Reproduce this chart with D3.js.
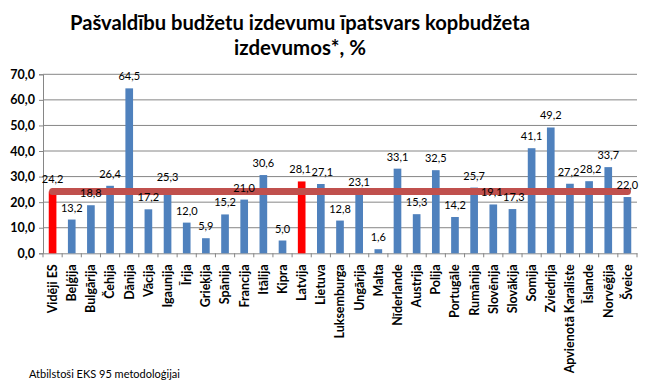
<!DOCTYPE html>
<html><head><meta charset="utf-8">
<script src="https://cdn.jsdelivr.net/npm/d3@7"></script>
<style>body{margin:0;background:#fff}svg{display:block}</style>
</head><body>
<svg id="c" width="648" height="384"></svg>
<script>
const categories = ["Vidēji ES","Beļģija","Bulgārija","Čehija","Dānija","Vācija","Igaunija","Īrija","Grieķija","Spānija","Francija","Itālija","Kipra","Latvija","Lietuva","Luksemburga","Ungārija","Malta","Nīderlande","Austrija","Polija","Portugāle","Rumānija","Slovēnija","Slovākija","Somija","Zviedrija","Apvienotā Karaliste","Īslande","Norvēģija","Šveice"];
const values = [24.2,13.2,18.8,26.4,64.5,17.2,25.3,12.0,5.9,15.2,21.0,30.6,5.0,28.1,27.1,12.8,23.1,1.6,33.1,15.3,32.5,14.2,25.7,19.1,17.3,41.1,49.2,27.2,28.2,33.7,22.0];
const highlighted = ["Vidēji ES","Latvija"];
const averageValue = 24.2;
const yTicks = [0,10,20,30,40,50,60,70];
const titleLines = ["Pašvaldību budžetu izdevumu īpatsvars kopbudžeta","izdevumos*, %"];
const footnote = "Atbilstoši EKS 95 metodoloģijai";

(function(){
const svg = d3.select("#c");
const font = "Lato, 'Noto Sans', sans-serif";
const pl = 43, pr = 637, pt = 74.3, pb = 253.3;
const x = d3.scaleBand().domain(categories).range([pl, pr]).paddingInner(0.6).paddingOuter(0.3);
const xb = d3.scaleBand().domain(categories).range([pl, pr]);
const y = d3.scaleLinear().domain([0,70]).range([pb, pt]);
const fmt = v => d3.format(".1f")(v).replace(".", ",");

// title
const titleLen = [460, 132];
svg.append("g").selectAll("text").data(titleLines).join("text")
  .attr("x", 300).attr("y", (d,i)=>30 + i*25)
  .attr("text-anchor","middle").attr("font-family",font).attr("font-weight","bold")
  .attr("font-size",20).attr("fill","#000")
  .attr("textLength",(d,i)=>titleLen[i]).attr("lengthAdjust","spacingAndGlyphs")
  .text(d=>d);

// gridlines
svg.append("g").selectAll("line").data(yTicks.filter(t=>t>0)).join("line")
  .attr("x1", pl).attr("x2", pr).attr("y1", d=>y(d)).attr("y2", d=>y(d))
  .attr("stroke","#868686").attr("stroke-width",1);

// y axis
const yAxis = svg.append("g").attr("transform",`translate(${pl},0)`)
  .call(d3.axisLeft(y).tickValues(yTicks).tickFormat(fmt).tickSize(4).tickPadding(4));
yAxis.select(".domain").attr("stroke","#868686");
yAxis.selectAll(".tick line").attr("stroke","#868686");
yAxis.selectAll("text").attr("font-family",font).attr("font-weight","bold").attr("font-size",12.5).attr("fill","#000");

// x axis
const xAxis = svg.append("g").attr("transform",`translate(0,${pb})`)
  .call(d3.axisBottom(xb).tickSize(0).tickPadding(0));
xAxis.select(".domain").attr("stroke","#868686");
xAxis.selectAll(".tick text")
  .attr("font-family",font).attr("font-weight","bold").attr("font-size",12.5).attr("fill","#000")
  .attr("transform","rotate(-90)").attr("x",-11).attr("y",0).attr("dy","0.35em").attr("text-anchor","end");
// category boundary ticks
svg.append("g").selectAll("line").data(d3.range(categories.length+1)).join("line")
  .attr("x1",i=>pl + i*xb.step()).attr("x2",i=>pl + i*xb.step())
  .attr("y1",pb).attr("y2",pb+4).attr("stroke","#868686");

// bars
svg.append("g").selectAll("rect").data(categories).join("rect")
  .attr("x", d=>x(d)).attr("width", x.bandwidth())
  .attr("y", (d,i)=>y(values[i])).attr("height",(d,i)=>pb - y(values[i]))
  .attr("fill", d=>highlighted.includes(d) ? "#ff0000" : "#4f81bd");

// average line
const line = d3.line().x(d=>xb(d)+xb.bandwidth()/2).y(()=>y(averageValue));
svg.append("path").datum(categories).attr("d",line)
  .attr("fill","none").attr("stroke","#c0504d").attr("stroke-width",7).attr("stroke-linecap","round");

// data labels with simple collision nudging
const labels = svg.append("g").selectAll("text").data(categories).join("text")
  .attr("x", d=>xb(d)+xb.bandwidth()/2).attr("y",(d,i)=>y(values[i]) - 8)
  .attr("text-anchor","middle").attr("font-family",font).attr("font-size",11).attr("fill","#000")
  .text((d,i)=>fmt(values[i]));
const boxes = labels.nodes().map(n=>{const b=n.getBBox(); return {n, x:b.x, y:b.y, w:b.width, h:b.height, dx:0};});
for (let i=1;i<boxes.length;i++){
  const a=boxes[i-1], b=boxes[i];
  const vOverlap = !(a.y+a.h < b.y || b.y+b.h < a.y);
  const ov = (a.x+a.dx+a.w) - (b.x+b.dx) + 0.5;
  if (vOverlap && ov>0){ a.dx -= ov/2; b.dx += ov/2; }
}
boxes.forEach(b=>{ d3.select(b.n).attr("x", +d3.select(b.n).attr("x") + b.dx); });

// footnote
svg.append("text").attr("x",29).attr("y",378).attr("font-family",font).attr("font-size",11)
  .attr("fill","#000").text(footnote);
})();
</script>
</body></html>
